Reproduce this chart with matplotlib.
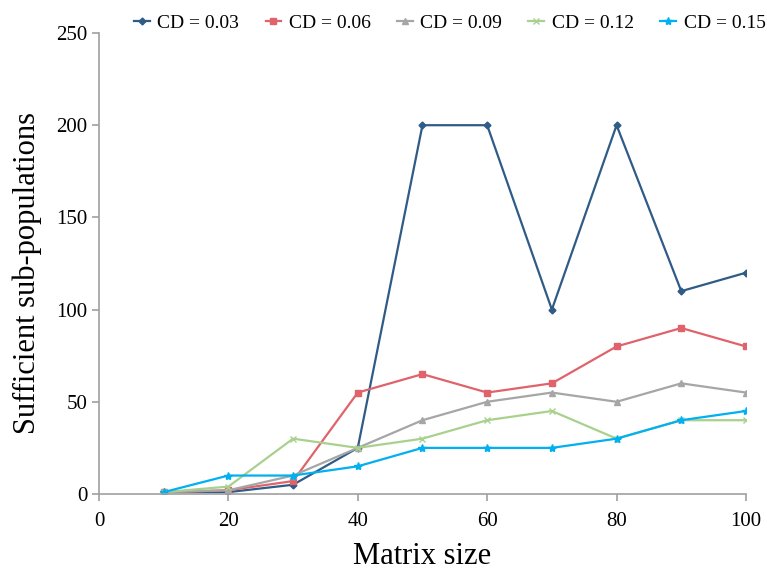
import numpy as np
import matplotlib
matplotlib.use("Agg")
import matplotlib.pyplot as plt

plt.rcParams["font.family"] = ["Liberation Serif", "DejaVu Serif"]

matrix_size = [10, 20, 30, 40, 50, 60, 70, 80, 90, 100]
cd_003 = [1, 1, 5, 25, 200, 200, 100, 200, 110, 120]
cd_006 = [1, 2, 7, 55, 65, 55, 60, 80, 90, 80]
cd_009 = [1, 2, 10, 25, 40, 50, 55, 50, 60, 55]
cd_012 = [1, 4, 30, 25, 30, 40, 45, 30, 40, 40]
cd_015 = [1, 10, 10, 15, 25, 25, 25, 30, 40, 45]

series = [
    ("CD = 0.03", cd_003, "#2F5B87", "D", 3.5),
    ("CD = 0.06", cd_006, "#E0636B", "s", 5),
    ("CD = 0.09", cd_009, "#A6A6A6", "^", 5),
    ("CD = 0.12", cd_012, "#A9D18E", "x", 5),
    ("CD = 0.15", cd_015, "#00B0F0", "*", 6),
]

fig = plt.figure(figsize=(7.67, 5.72), dpi=100)
ax = fig.add_axes([0.129, 0.1364, 0.8436, 0.8059])

for label, vals, color, marker, ms in series:
    ax.plot(matrix_size, vals, color=color, marker=marker, markersize=ms,
            linewidth=1.6, label=label)

ax.set_xlim(0, 100)
ax.set_ylim(0, 250)
ax.set_xticks(np.arange(0, 101, 20))
ax.set_yticks(np.arange(0, 251, 50))
for side in ["top", "right"]:
    ax.spines[side].set_visible(False)
for side in ["left", "bottom"]:
    ax.spines[side].set_color("#A0A0A0")
    ax.spines[side].set_linewidth(1.2)
ax.tick_params(axis="both", colors="#A0A0A0", length=5, width=1.2,
               labelsize=15, labelcolor="black")
ax.tick_params(axis="x", pad=8)

ax.set_xlabel("Matrix size", fontsize=22, labelpad=8)
ax.set_ylabel("Sufficient sub-populations", fontsize=22)
ax.yaxis.set_label_coords(-0.088, 0.48)

ax.legend(loc="lower right", bbox_to_anchor=(1.042, 0.985), ncol=5, frameon=False,
          fontsize=14, handlelength=0.8, handletextpad=0.4, columnspacing=1.35,
          borderaxespad=0)

fig.savefig("out.png", dpi=100)
